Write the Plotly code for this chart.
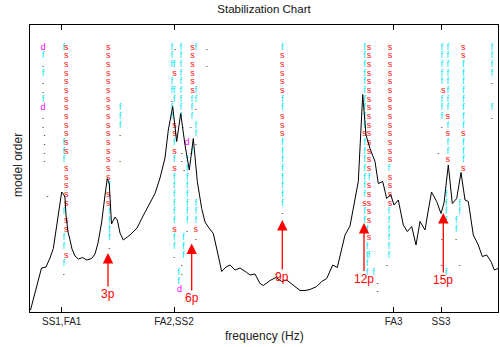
import plotly.graph_objects as go

# Model orders of the identification runs, listed from the top row downwards
ORDERS = list(range(30, 1, -1))

# Pole columns: (frequency in Hz, first row index, flags downward from that row)
# flags: s = stable pole, f = stable frequency, d = stable damping, . = new pole, - = none
poles_ss1 = [
    (0.430, 0, "df.f..fd.."),
    (0.445, 10, "...."),
    (0.475, 17, "."),
    (0.637, 0, "f----------fff-----f--ff-f."),
    (0.662, 0, "sssssssssssss-sssss-ss--s"),
]
poles_3p = [
    (1.083, 0, "ssssssssssssssss-ss"),
    (1.093, 16, "f--ffff."),
    (1.200, 7, "fff.--."),
]
poles_ss2 = [
    (1.717, 0, "fff-ff.ff"),
    (1.750, 0, "."),
    (1.740, 2, "f--ff----f-f-ffffff-ff."),
    (1.745, 3, "s-----ss-s-s------s"),
    (1.785, 26, "ff"),
    (1.795, 28, "d"),
    (1.817, 12, "..-----------.."),
    (1.807, 0, "fffffffff"),
    (1.827, 9, "."),
    (1.840, 14, "."),
    (1.870, 11, "d-ffffffff."),
    (1.833, 22, "fff"),
    (1.925, 0, "ssssss"),
    (1.917, 6, "fff---f"),
    (1.907, 9, ".--."),
    (1.957, 0, "f----ff.-ff.------fffs."),
    (2.067, 0, ".-."),
]
poles_9p = [
    (2.823, 0, "fsssssffsssffffffff."),
]
poles_fa3 = [
    (3.645, 0, "ffffffffffsfffffffsff"),
    (3.690, 0, "sssssssssssssssfsssss-s-f"),
    (3.670, 21, "f-ffff"),
    (3.735, 26, "f"),
    (3.775, 27, ".."),
    (3.900, 0, "ssssssssssssss-ssss"),
    (3.887, 14, "f----ffffff"),
    (3.867, 25, "."),
]
poles_ss3 = [
    (4.417, 0, "fffff-fff.------------.--."),
    (4.433, 5, "s"),
    (4.383, 12, "."),
    (4.477, 0, "ffffffffsfsffs"),
    (4.460, 17, "ffff-----f"),
    (4.633, 0, "ssffffffffsfffs"),
    (4.595, 18, "ff-----."),
    (4.560, 20, "ff."),
    (4.917, 0, "ffff.--f."),
]

# Response spectrum (frequency in Hz, level in dB)
spectrum = [
    (0.305, -62.0), (0.360, -57.8), (0.395, -55.2), (0.415, -53.6), (0.460, -53.4),
    (0.500, -51.6), (0.533, -49.7), (0.570, -45.0), (0.617, -38.4), (0.640, -39.0),
    (0.650, -39.6), (0.660, -43.0), (0.680, -46.4), (0.700, -48.0), (0.720, -49.8),
    (0.750, -51.2), (0.783, -51.8), (0.827, -51.5), (0.867, -52.0), (0.917, -51.7),
    (0.950, -50.8), (0.980, -48.6), (1.017, -44.4), (1.050, -39.0), (1.073, -35.7),
    (1.093, -36.8), (1.105, -41.0), (1.115, -44.8), (1.150, -43.4), (1.173, -44.0),
    (1.200, -46.6), (1.233, -48.0), (1.300, -47.0), (1.370, -45.6), (1.430, -43.2),
    (1.500, -40.7), (1.550, -38.7), (1.600, -35.6), (1.650, -31.6), (1.683, -26.0),
    (1.727, -21.3), (1.767, -28.3), (1.807, -22.7), (1.850, -29.0), (1.893, -34.0),
    (1.933, -27.7), (1.973, -36.3), (2.017, -41.7), (2.050, -44.4), (2.090, -45.6),
    (2.133, -46.7), (2.170, -50.0), (2.217, -54.3), (2.260, -53.4), (2.300, -53.0),
    (2.350, -54.0), (2.400, -53.6), (2.467, -54.5), (2.500, -55.0), (2.550, -54.8),
    (2.600, -56.7), (2.633, -57.1), (2.700, -56.1), (2.760, -55.5), (2.817, -56.3),
    (2.867, -56.0), (2.933, -57.0), (3.000, -58.1), (3.050, -58.1), (3.100, -57.9),
    (3.167, -57.3), (3.217, -56.3), (3.267, -55.7), (3.327, -53.0), (3.373, -53.5),
    (3.407, -50.7), (3.450, -47.0), (3.500, -45.2), (3.540, -41.0), (3.583, -36.3),
    (3.627, -18.9), (3.660, -27.0), (3.700, -29.7), (3.750, -32.3), (3.783, -36.7),
    (3.827, -36.3), (3.867, -39.7), (3.907, -38.9), (3.940, -41.0), (3.983, -40.0),
    (4.033, -45.0), (4.073, -46.3), (4.117, -45.3), (4.160, -49.0), (4.200, -44.3),
    (4.250, -46.0), (4.280, -42.4), (4.315, -38.4), (4.367, -40.3), (4.410, -42.7),
    (4.440, -40.6), (4.483, -33.0), (4.523, -40.7), (4.567, -39.7), (4.610, -34.5),
    (4.650, -40.0), (4.683, -40.3), (4.733, -47.0), (4.783, -49.0), (4.823, -51.3),
    (4.867, -51.0), (4.910, -52.3), (4.943, -54.0), (4.980, -53.7),
]

# Rotor harmonics: label, frequency (Hz), arrow tip (dB), label position (dB)
harmonic_labels = ["3p", "6p", "9p", "12p", "15p"]
harmonic_freqs = [1.080, 1.917, 2.823, 3.640, 4.433]
harmonic_tip_db = [-50.6, -48.7, -44.0, -44.6, -42.6]
harmonic_label_db = [-58.8, -59.6, -55.4, -55.7, -56.0]

# Identified modes marked on the frequency axis
mode_freqs = [0.617, 1.740, 3.937, 4.410]
mode_names = ["SS1,FA1", "FA2,SS2", "FA3", "SS3"]

FONT = "Liberation Sans, Arial, Helvetica, sans-serif"
FLAG_COLORS = {"s": "#ff1010", "f": "#00e6ee", "d": "#ff00ff", ".": "#000000"}

# Gather pole markers per flag
marks = {k: ([], []) for k in FLAG_COLORS}
for group in (poles_ss1, poles_3p, poles_ss2, poles_9p, poles_fa3, poles_ss3):
    for freq, first, flags in group:
        for i, ch in enumerate(flags):
            if ch in marks:
                marks[ch][0].append(freq)
                marks[ch][1].append(ORDERS[first + i])

fig = go.Figure()

fig.add_trace(go.Scatter(
    x=[p[0] for p in spectrum], y=[p[1] for p in spectrum],
    mode="lines", line=dict(color="black", width=1),
    yaxis="y2", hoverinfo="skip", showlegend=False,
))

for flag in [".", "f", "s", "d"]:
    xs, ys = marks[flag]
    fig.add_trace(go.Scatter(
        x=xs, y=ys, mode="text", text=[flag] * len(xs),
        textposition="middle center",
        textfont=dict(family=FONT, size=9, color=FLAG_COLORS[flag]),
        hoverinfo="skip", showlegend=False,
    ))

annotations = []
for lab, fx, tip, txt in zip(harmonic_labels, harmonic_freqs, harmonic_tip_db, harmonic_label_db):
    annotations.append(dict(
        x=fx, y=tip, xref="x", yref="y2",
        ax=fx, ay=txt, axref="x", ayref="y2",
        text=lab, showarrow=True, arrowhead=2, arrowsize=1.6,
        arrowwidth=1.3, arrowcolor="#ff0000", standoff=0, borderpad=0,
        font=dict(family=FONT, size=12, color="#ff0000"),
    ))

annotations.append(dict(
    text="frequency (Hz)", x=0.5, y=-0.085, xref="paper", yref="paper",
    xanchor="center", yanchor="middle", showarrow=False,
    font=dict(family=FONT, size=12, color="#222222"),
))
annotations.append(dict(
    text="model order", x=-0.026, y=0.512, xref="paper", yref="paper",
    xanchor="center", yanchor="middle", showarrow=False, textangle=-90,
    font=dict(family=FONT, size=12, color="#222222"),
))

fig.update_layout(
    width=500, height=347,
    margin=dict(l=30, r=2, t=25, b=35),
    paper_bgcolor="white", plot_bgcolor="white",
    title=dict(text="Stabilization Chart", x=0.528, xanchor="center",
               y=1 - 9 / 347, yanchor="middle",
               font=dict(family=FONT, size=11.5, color="#111111")),
    xaxis=dict(range=[0.30, 4.98], tickvals=mode_freqs, ticktext=mode_names,
               ticks="inside", ticklen=5, tickcolor="black", tickwidth=1,
               showline=True, linecolor="black", linewidth=1, mirror="ticks",
               showgrid=False, zeroline=False,
               tickfont=dict(family=FONT, size=10, color="#222222")),
    yaxis=dict(range=[-0.51, 32.6], showticklabels=False, ticks="",
               showline=True, linecolor="black", linewidth=1, mirror=True,
               showgrid=False, zeroline=False),
    yaxis2=dict(range=[-62.4, -5], overlaying="y", visible=False),
    annotations=annotations,
)

fig.write_html("out.html")
